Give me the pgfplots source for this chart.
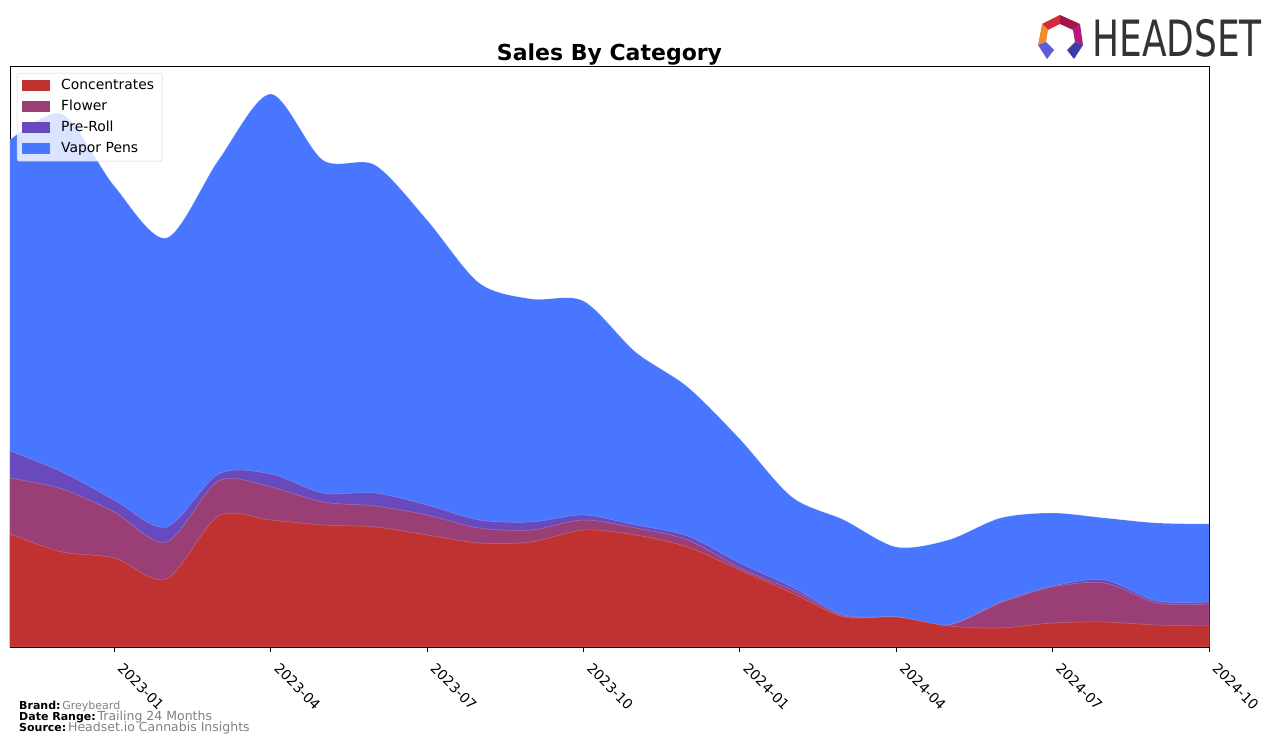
\documentclass[border=0pt]{standalone}
\usepackage{pgfplots}
\pgfplotsset{compat=1.18}
\usepackage{fontspec}
\setmainfont{DejaVu Sans}
\definecolor{cconc}{RGB}{192,50,50}
\definecolor{cflow}{RGB}{153,63,118}
\definecolor{cpre}{RGB}{105,74,190}
\definecolor{cvap}{RGB}{72,118,255}
\definecolor{logogray}{RGB}{51,51,51}
\definecolor{lg1}{RGB}{212,42,60}
\definecolor{lg2}{RGB}{163,22,74}
\definecolor{lg3}{RGB}{184,23,124}
\definecolor{lg4}{RGB}{242,139,42}
\definecolor{lg5}{RGB}{94,91,216}
\definecolor{lg6}{RGB}{59,59,170}
\definecolor{footgray}{RGB}{128,128,128}
\begin{document}
\begin{tikzpicture}[x=1pt,y=1pt]
\useasboundingbox (0,0) rectangle (1276,746);
\begin{axis}[
  at={(10pt,99pt)}, anchor=south west,
  width=1199pt, height=581pt, scale only axis,
  xmin=0, xmax=23, ymin=0, ymax=581,
  xtick={2,5,8,11,14,17,20,23},
  xticklabels={2023-01,2023-04,2023-07,2023-10,2024-01,2024-04,2024-07,2024-10},
  ytick=\empty,
  xtick pos=bottom,
  tick align=outside, major tick length=5pt,
  xticklabel style={rotate=-45, anchor=north west, font=\fontsize{13.9}{16}\selectfont, inner sep=1pt, xshift=13pt, yshift=1pt},
  axis line style={line width=0.8pt},
  every tick/.style={black, line width=0.8pt},
  legend cell align=left,
  legend image code/.code={\fill[#1, draw=none, sharp corners, fill opacity=1] (0pt,-5.5pt) rectangle (28pt,5.5pt);},
  legend style={at={(0,1)}, anchor=north west, xshift=7pt, yshift=-7pt,
    draw=black!18, rounded corners=2pt, fill=white, fill opacity=0.8, text opacity=1,
    font=\fontsize{13.9}{16}\selectfont, row sep=8pt, inner xsep=5pt, inner ysep=6pt,
    nodes={text height=10pt, text depth=3pt, inner ysep=0pt, inner xsep=3pt},
    /tikz/every odd column/.append style={column sep=8pt}},
]
\addlegendimage{fill=cconc}
\addlegendentry{Concentrates}
\addlegendimage{fill=cflow}
\addlegendentry{Flower}
\addlegendimage{fill=cpre}
\addlegendentry{Pre-Roll}
\addlegendimage{fill=cvap}
\addlegendentry{Vapor Pens}
% cumulative: Vapor Pens (top of stack)
\addplot[forget plot, fill=cvap, draw=white, draw opacity=0.25, line width=0.5pt, smooth] coordinates {
(0,507)(1,533)(2,461)(3,409)(4,487)(5,553)(6,487)(7,482)(8,427)(9,364)(10,348)(11,346)
(12,295)(13,260)(14,208)(15,150)(16,127)(17,100)(18,107)(19,129)(20,134)(21,129)(22,124)(23,123)} \closedcycle;
% cumulative: Pre-Roll
\addplot[forget plot, fill=cpre, draw=white, draw opacity=0.25, line width=0.5pt, smooth] coordinates {
(0,196)(1,175)(2,147)(3,120)(4,173)(5,173)(6,154)(7,154)(8,142)(9,127)(10,125)(11,132)
(12,122)(13,111)(14,84)(15,60)(16,32)(17,30)(18,22)(19,45)(20,61)(21,67)(22,46)(23,45)} \closedcycle;
% cumulative: Flower
\addplot[forget plot, fill=cflow, draw=white, draw opacity=0.25, line width=0.5pt, smooth] coordinates {
(0,169)(1,158)(2,135)(3,105)(4,166)(5,160)(6,145)(7,141)(8,132)(9,119)(10,117)(11,127)
(12,119)(13,107)(14,79)(15,57)(16,31)(17,30)(18,22)(19,44)(20,60)(21,64)(22,44)(23,43)} \closedcycle;
% Concentrates
\addplot[forget plot, fill=cconc, draw=white, draw opacity=0.25, line width=0.5pt, smooth] coordinates {
(0,113)(1,95)(2,89)(3,68)(4,131)(5,127)(6,122)(7,120)(8,112)(9,104)(10,105)(11,117)
(12,112)(13,100)(14,77)(15,54)(16,30)(17,30)(18,21)(19,19)(20,24)(21,25)(22,22)(23,21)} \closedcycle;
\end{axis}
\node[font=\bfseries\fontsize{22}{26}\selectfont] at (609.5,691) {Sales By Category};
% footer
\node[anchor=west, inner sep=0pt] at (19,40) {\fontsize{11}{12}\selectfont\textbf{Brand:}\,\textcolor{footgray}{Greybeard}};
\node[anchor=west, inner sep=0pt] at (19,28.5) {\fontsize{11}{12}\selectfont\textbf{Date Range:}\,\textcolor{footgray}{\fontsize{12.5}{13}\selectfont Trailing 24 Months}};
\node[anchor=west, inner sep=0pt] at (19,17.5) {\fontsize{11}{12}\selectfont\textbf{Source:}\,\textcolor{footgray}{\fontsize{12.5}{13}\selectfont Headset.io Cannabis Insights}};
% logo
\node[anchor=west, inner sep=0pt, text=logogray] at (1092,708) {\scalebox{0.72}[1]{\fontsize{50}{50}\selectfont HEADSET}};
\begin{scope}[yscale=-1, shift={(0,-746)}]
\fill[lg1] (1060,15) -- (1042,24) -- (1048,30) -- (1060,24) -- cycle;
\fill[lg2] (1060,15) -- (1080,24) -- (1073,30) -- (1060,24) -- cycle;
\fill[lg3] (1080,24) -- (1083,45) -- (1075,42) -- (1073,30) -- cycle;
\fill[lg4] (1042,24) -- (1038,45) -- (1046,42) -- (1048,30) -- cycle;
\fill[lg5] (1038,45) -- (1046,42) -- (1054,50) -- (1047,59) -- cycle;
\fill[lg6] (1083,45) -- (1075,42) -- (1067,50) -- (1074,59) -- cycle;
\end{scope}
\end{tikzpicture}
\end{document}
